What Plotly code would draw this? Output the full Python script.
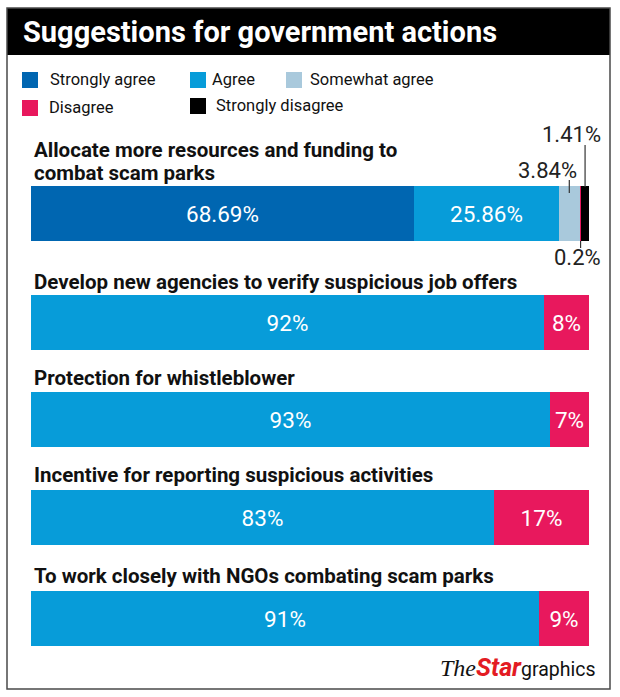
import plotly.graph_objects as go

# ---------------- data ----------------
questions = [
    "Allocate more resources and funding to<br>combat scam parks",
    "Develop new agencies to verify suspicious job offers",
    "Protection for whistleblower",
    "Incentive for reporting suspicious activities",
    "To work closely with NGOs combating scam parks",
]
series_names = ["Strongly agree", "Agree", "Somewhat agree", "Disagree", "Strongly disagree"]
strongly_agree = [68.69, None, None, None, None]
agree = [25.86, 92, 93, 83, 91]
somewhat_agree = [3.84, None, None, None, None]
disagree = [0.2, 8, 7, 17, 9]
strongly_disagree = [1.41, None, None, None, None]

# ---------------- styles / layout ----------------
W, H = 620, 697
colors = ["#0066b1", "#079cd9", "#a9c9dc", "#e8185d", "#000000"]
FONT = "Roboto"
row_y = [213.5, 322.5, 419, 517.5, 618]      # bar centres (px from top)
title_y = [149.5, 282, 378, 475, 576]        # question title (first line) centres
line_gap = 23
bar_h = 55
X0, X1 = 31, 589                              # bar extent in px

series = [strongly_agree, agree, somewhat_agree, disagree, strongly_disagree]

def fmt(v):
    s = ("%.2f" % v).rstrip("0").rstrip(".")
    return s + "%"

fig = go.Figure()
for name, vals, col in zip(series_names, series, colors):
    texts = []
    for v in vals:
        if v is None or v < 5:
            texts.append("")
        else:
            texts.append(fmt(v))
    fig.add_trace(go.Bar(
        name=name, orientation="h", x=vals, y=row_y, width=bar_h,
        marker=dict(color=col, line=dict(width=0)),
        text=texts, textposition="inside", insidetextanchor="middle",
        textangle=0,
        textfont=dict(family=FONT, size=22.5, color="white"),
        hoverinfo="skip", showlegend=False,
    ))

def px(x):
    return x / W

shapes = []
annotations = []

# outer frame
shapes.append(dict(type="rect", xref="paper", yref="y", x0=px(7), x1=px(610), y0=8, y1=689,
                   line=dict(color="#4a4a4a", width=1.5), fillcolor="rgba(0,0,0,0)", layer="above"))
# header band
shapes.append(dict(type="rect", xref="paper", yref="y", x0=px(7), x1=px(610), y0=8, y1=55,
                   line=dict(width=0), fillcolor="#000000", layer="below"))
annotations.append(dict(text="<b>Suggestions for government actions</b>", xref="paper", yref="y",
                        x=px(21), y=32, xanchor="left", yanchor="middle", showarrow=False,
                        font=dict(family=FONT, size=29, color="white")))

# legend (manual)
legend_items = [
    (0, 22, 80, 48),
    (1, 190, 80, 210),
    (2, 286, 80, 308),
    (3, 22, 108, 47),
    (4, 190, 106, 214),
]
for idx, sx, sy, tx in legend_items:
    shapes.append(dict(type="rect", xref="paper", yref="y", x0=px(sx), x1=px(sx + 16),
                       y0=sy - 8, y1=sy + 8, line=dict(width=0), fillcolor=colors[idx]))
    annotations.append(dict(text=series_names[idx], xref="paper", yref="y", x=px(tx), y=sy - 1,
                            xanchor="left", yanchor="middle", showarrow=False,
                            font=dict(family=FONT, size=16.5, color="#111111")))

# question titles (each line placed separately for tight leading)
for q, ty in zip(questions, title_y):
    for k, line in enumerate(q.split("<br>")):
        annotations.append(dict(text="<b>" + line + "</b>", xref="paper", yref="y", x=px(32),
                                y=ty + k * line_gap, xanchor="left", yanchor="middle",
                                showarrow=False, align="left",
                                font=dict(family=FONT, size=20.5, color="#111111")))

# small-segment callouts for first bar
first = [s[0] for s in series]
cum = []
c = 0
for v in first:
    cum.append(c + v / 2)
    c += v
top = row_y[0] - bar_h / 2
bot = row_y[0] + bar_h / 2
callouts = [
    # series idx, label centre x(px), label y, line y0, line y1
    (2, 547, 170, 180, 193),
    (4, 571, 134, 145, top + 1),
    (3, 577, 257, bot, 248),
]
for idx, lx, ly, l0, l1 in callouts:
    shapes.append(dict(type="line", xref="x", yref="y", x0=cum[idx], x1=cum[idx], y0=l0, y1=l1,
                       line=dict(color="#333333", width=1.2), layer="above"))
    annotations.append(dict(text=fmt(first[idx]), xref="paper", yref="y", x=px(lx), y=ly,
                            xanchor="center", yanchor="middle", showarrow=False,
                            font=dict(family=FONT, size=22, color="#222222")))

# logo
annotations.append(dict(
    text="<span style='font-family:Liberation Serif;font-size:24px'><i>The</i></span>"
         "<span style='color:#e31b23;font-size:25px'><b><i>Star</i></b></span>graphics",
    xref="paper", yref="y", x=px(597), y=667, xanchor="right", yanchor="middle",
    showarrow=False, font=dict(family=FONT, size=19.5, color="#111111")))

fig.update_layout(
    width=W, height=H, margin=dict(l=0, r=0, t=0, b=0),
    paper_bgcolor="white", plot_bgcolor="white",
    barmode="stack", bargap=0,
    xaxis=dict(range=[0, 100], domain=[px(X0), px(X1)], visible=False, fixedrange=True),
    yaxis=dict(range=[H, 0], domain=[0, 1], visible=False, fixedrange=True),
    shapes=shapes, annotations=annotations,
    uniformtext=dict(mode=False),
)
fig.write_html("out.html", config={"displayModeBar": False})
